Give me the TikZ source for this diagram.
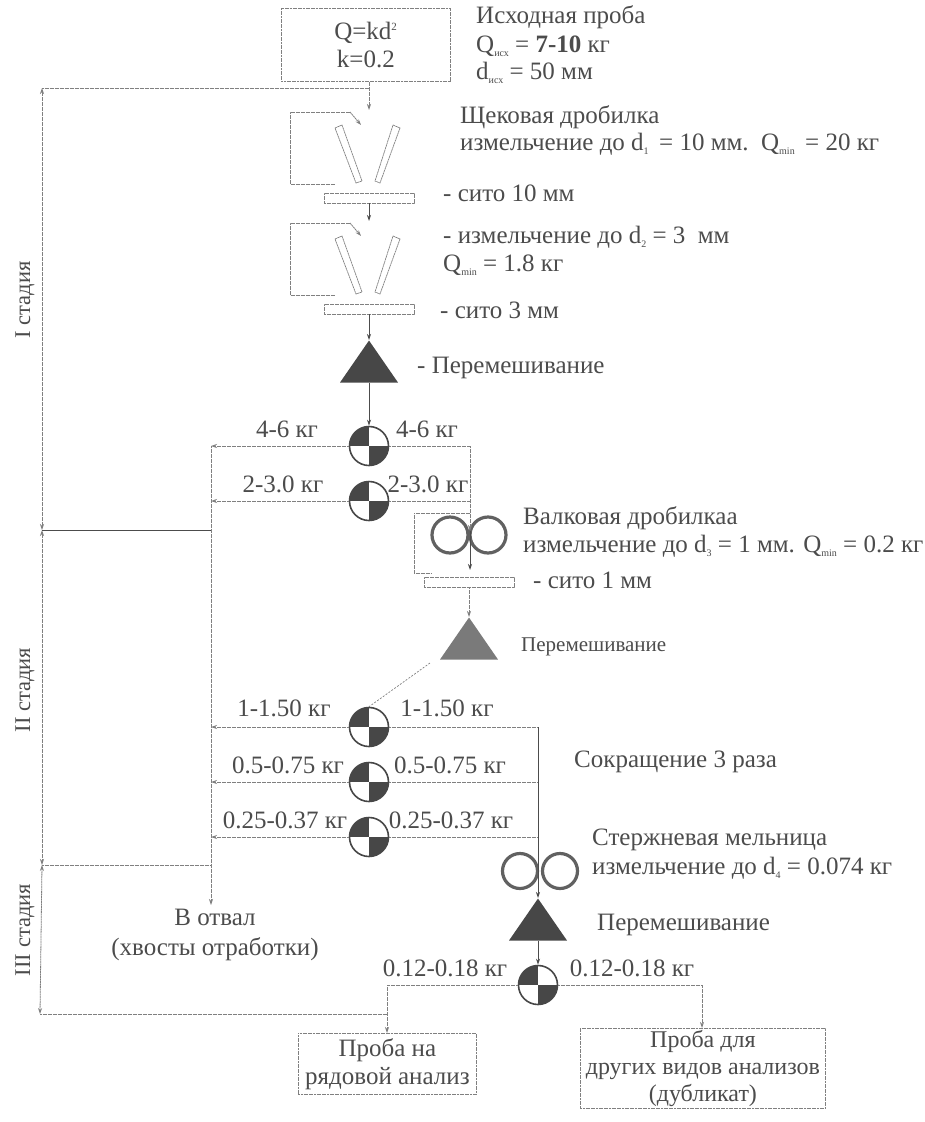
\documentclass[tikz,border=0pt]{standalone}
\usepackage{fontspec}
\setmainfont{Liberation Serif}
\usetikzlibrary{arrows.meta,positioning,shapes.geometric,calc}
\definecolor{ink}{gray}{.3}
\definecolor{scan}{gray}{.5}
\newcommand{\lowsub}[1]{\raisebox{-4pt}{\fontsize{10}{10}\selectfont #1}}
\tikzset{
  txt/.style={inner sep=0,text=ink,font=\fontsize{25}{28}\selectfont,align=left},
  lbl/.style={txt,anchor=west},
  mass/.style={txt,anchor=center,align=center},
  stagetxt/.style={mass,rotate=90,font=\fontsize{22.5}{26}\selectfont},
  flow/.style={draw=scan,line width=.8pt,dash pattern=on 2pt off .5pt},
  solid line/.style={draw=ink,line width=.8pt},
  sieve/.style={draw=scan,line width=.8pt,dash pattern=on 2pt off .5pt,minimum width=90pt,minimum height=10pt,inner sep=0},
  plate/.style={draw=scan,line width=.7pt,dash pattern=on 2pt off .5pt},
  roller/.style={circle,draw=black!62,line width=3.2pt,inner sep=0},
  mixer/.style={isosceles triangle,isosceles triangle stretches,shape border rotate=90,minimum height=42pt,minimum width=58pt,inner sep=0,anchor=apex},
  splitter/.style={circle,draw=black!72,line width=1.6pt,minimum size=39pt,inner sep=0,path picture={
    \fill[black!72](path picture bounding box.center)rectangle(path picture bounding box.north west);
    \fill[black!72](path picture bounding box.center)rectangle(path picture bounding box.south east);}},
  outbox/.style={draw=scan,line width=.8pt,dash pattern=on 2pt off .6pt,txt,align=center,anchor=north west}
}
\begin{document}
\begin{tikzpicture}[x=1pt,y=-1pt,>={Stealth[length=6pt,width=4pt]}]
\useasboundingbox[fill=white](0,0)rectangle(924,1122);
% sample and formula
\node[outbox,minimum width=169pt,minimum height=73pt](formula)at(281,8){Q=kd\textsuperscript{\fontsize{11}{11}\selectfont 2}\\k=0.2};
\node[lbl](srcA)at(476,17){Исходная проба};
\node[lbl](srcB)at(476,46){Q\lowsub{исх} = \textbf{7-10} кг};
\node[lbl](srcC)at(476,73){d\lowsub{исх} = 50 мм};
% jaw crushers
\foreach \nm/\dy in {A/0,B/111}{
\begin{scope}[shift={(0,\dy)}]
\draw[flow,->](350,112)--(361,125);\draw[flow](350,112)--(290,112)--(290,184)--(335,184);
\draw[plate](335,128)--(342,125)--(362,181)--(356,183)--cycle;
\draw[plate](393,125)--(400,128)--(380,183)--(375,181)--cycle;
\node[sieve](sieve\nm)at(369,198){};
\coordinate(feed\nm)at(369,110);
\end{scope}}
\coordinate(stageTop)at(42,88);\coordinate(tee)at(369,88);
\draw[flow,->](formula.south-|feedA)--(feedA);\draw[flow](stageTop)--(tee);
\draw[solid line,->](sieveA.south)--(feedB);
\node[lbl](jawA)at(460,117){Щековая дробилка};
\node[lbl](jawB)at(460,144){измельчение до d\lowsub{1}\, = 10 мм.\, Q\lowsub{min}\, = 20 кг};
\node[lbl](sieveTxtA)at(443,193){- сито 10 мм};
\node[lbl](jawC)at(443,237){- измельчение до d\lowsub{2} = 3~~мм};
\node[lbl](jawD)at(443,265){Q\lowsub{min} = 1.8 кг};
\node[lbl](sieveTxtB)at(440,310){- сито 3 мм};
% mixers
\node[mixer,fill=black!72](mixA)at(369,340){};
\node[mixer,fill=black!52](mixB)at(469,617){};
\node[mixer,fill=black!72](mixC)at(538,898){};
\draw[solid line,->](sieveB.south)--(mixA.apex);
\node[lbl](mixTxtA)at(417,368){- Перемешивание};
\node[lbl,font=\fontsize{21}{24}\selectfont](mixTxtB)at(521,647){Перемешивание};
\node[lbl](mixTxtC)at(597,925){Перемешивание};
% splitters
\foreach \nm/\y in {A/446,B/501,C/727,D/782,E/837}\node[splitter](split\nm)at(369,\y){};
\node[splitter](splitF)at(538,985){};
\coordinate(wasteA)at(211,446);\coordinate(wasteEnd)at(211,905);
\coordinate(rightA)at(470,446);\coordinate(rightC)at(538,727);
\draw[solid line,->](mixA.lower side)--(splitA.north);
\foreach \nm in {A,B,C,D,E}\draw[flow,->](split\nm.west)--(split\nm.west-|wasteA);
\draw[flow,->](wasteA)--(wasteEnd);
% rolls and second sieve
\node[roller,minimum size=36pt](rollA)at(450,535){};
\node[roller,minimum size=36pt](rollB)at(488,535){};
\node[sieve](sieveC)at(469,582){};
\coordinate(rollIn)at(470,531);\coordinate(rollOut)at(470,570);
\draw[flow](splitA.east)--(rightA);\draw[flow](splitB.east)--(splitB.east-|rightA);
\draw[flow,->](rightA)--(rollIn);\draw[solid line,->](rollIn)--(rollOut);
\draw[flow](rollIn|-0,513)--(414,513)--(414,573)--(432,573);
\draw[flow,->](sieveC.south)--(mixB.apex);
\draw[draw=scan,line width=.7pt,dash pattern=on 2pt off 1.5pt](430,663)--(splitC.north);
\node[lbl](rollTxtA)at(523,518){Валковая дробилкаа};
\node[lbl](rollTxtB)at(523,546){измельчение до d\lowsub{3} = 1 мм. Q\lowsub{min} = 0.2 кг};
\node[lbl](sieveTxtC)at(533,580){- сито 1 мм};
% third line and rod mill
\node[roller,minimum size=35pt](rodA)at(520,871){};
\node[roller,minimum size=35pt](rodB)at(560,871){};
\draw[flow](splitC.east)--(rightC);\foreach \nm in {D,E}\draw[flow](split\nm.east)--(split\nm.east-|rightC);
\draw[solid line,->](rightC)--(mixC.apex);
\draw[solid line,->](mixC.lower side)--(splitF.north);
\node[lbl](cutTxt)at(574,762){Сокращение 3 раза};
\node[lbl](rodTxtA)at(592,840){Стержневая мельница};
\node[lbl](rodTxtB)at(592,868){измельчение до d\lowsub{4} = 0.074 кг};
% masses
\node[mass](mLA)at(287,429){4-6 кг};\node[mass](mRA)at(427,429){4-6 кг};
\node[mass](mLB)at(283,484){2-3.0 кг};\node[mass](mRB)at(428,484){2-3.0 кг};
\node[mass](mLC)at(284,708){1-1.50 кг};\node[mass](mRC)at(447,708){1-1.50 кг};
\node[mass](mLD)at(288,765){0.5-0.75 кг};\node[mass](mRD)at(450,765){0.5-0.75 кг};
\node[mass](mLE)at(285,820){0.25-0.37 кг};\node[mass](mRE)at(451,820){0.25-0.37 кг};
\node[mass](mLF)at(445,968){0.12-0.18 кг};\node[mass](mRF)at(632,968){0.12-0.18 кг};
\node[mass](waste)at(215,935){В отвал\\[2pt](хвосты отработки)};
% output boxes
\node[outbox,minimum width=178pt,minimum height=61pt](boxA)at(298,1033){Проба на\\рядовой анализ};
\node[outbox,minimum width=245pt,minimum height=80pt,font=\fontsize{24}{27}\selectfont](boxB)at(580,1028){Проба для\\других видов анализов\\(дубликат)};
\coordinate(outA)at(387,985);\coordinate(outB)at(702,985);
\draw[flow,->](splitF.west)--(outA)--(outA|-boxA.north);
\draw[flow,->](splitF.east)--(outB)--(outB|-boxB.north);
% stages
\coordinate(stageB)at(42,530);\coordinate(stageC)at(42,865);\coordinate(stageEnd)at(40,1014);
\draw[flow,<->](stageTop)--(stageB);\draw[flow,<->](stageB)--(stageC);\draw[flow,<->](stageC)--(stageEnd);
\draw[solid line](stageB)--(stageB-|wasteA);
\draw[flow](stageC)--(stageC-|wasteA);
\draw[flow](stageEnd)--(stageEnd-|outA);
\node[stagetxt](stageTxtA)at(25,300){I стадия};
\node[stagetxt](stageTxtB)at(25,690){II стадия};
\node[stagetxt](stageTxtC)at(25,930){III стадия};
\end{tikzpicture}
\end{document}
